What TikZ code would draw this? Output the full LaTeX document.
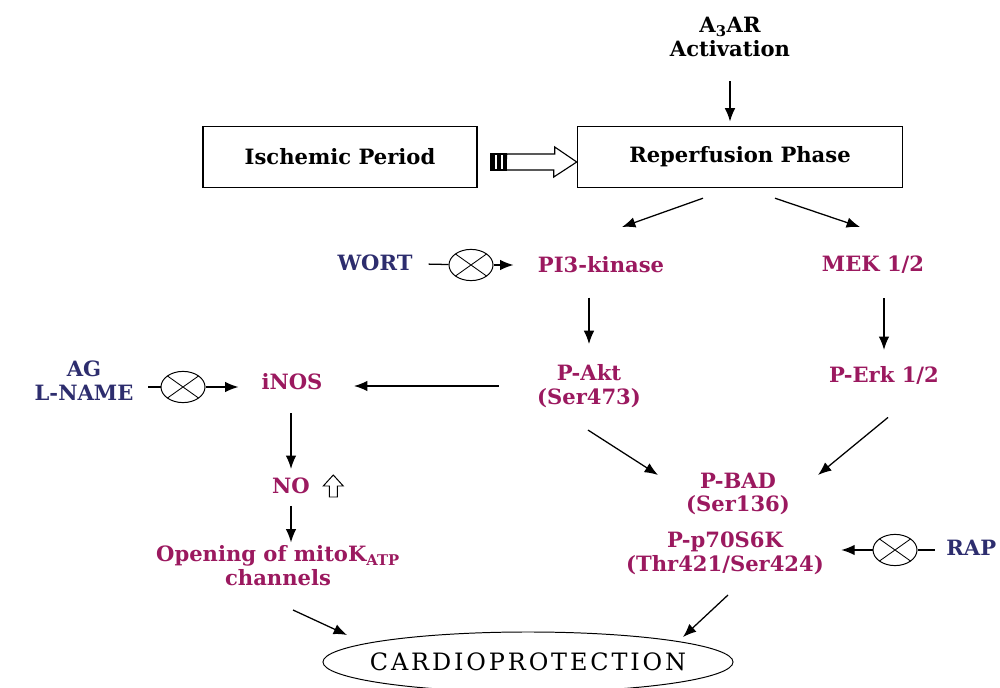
\documentclass[tikz,border=0pt]{standalone}
\usepackage{fontspec}
\setmainfont{DejaVu Serif}
\usetikzlibrary{shapes.geometric,arrows.meta}
\definecolor{plum}{RGB}{155,25,95}
\definecolor{navy}{RGB}{45,45,110}

\begin{document}
\begin{tikzpicture}[x=0.025cm, y=-0.025cm, >={Latex[length=9.5pt,width=7.5pt]}, line width=0.9pt,
    txt/.style={font=\fontsize{15}{17}\selectfont\bfseries, align=center, inner sep=2pt},
    mol/.style={txt, text=plum},
    drug/.style={txt, text=navy},
    phase/.style={txt, draw, line width=1pt, minimum height=1.525cm},
    blocker/.style={ellipse, draw, line width=0.7pt, minimum width=1.1cm, minimum height=0.78cm, inner sep=0pt,
        path picture={\draw[line width=0.6pt] (path picture bounding box.north west) -- (path picture bounding box.south east)
        (path picture bounding box.south west) -- (path picture bounding box.north east);}}]
    \useasboundingbox (0,0) rectangle (1000,688);

    \node[txt] (act) at (730,37) {A\textsubscript{3}AR\\Activation};
    \node[phase, minimum width=6.85cm] (isch) at (340,157) {Ischemic Period};
    \node[phase, minimum width=8.125cm] (rep) at (740,157) {Reperfusion Phase};

    \node[drug] (wort) at (375,263) {WORT};
    \node[blocker] (x1) at (471,265) {};
    \node[mol] (pi3) at (601,265) {PI3-kinase};
    \node[mol] (mek) at (873,265) {MEK 1/2};
    \node[mol] (akt) at (589,386) {P-Akt\\(Ser473)};
    \node[mol] (erk) at (884,375) {P-Erk 1/2};

    \node[drug] (ag) at (84,381) {AG\\L-NAME};
    \node[blocker] (x2) at (183,387) {};
    \node[mol] (inos) at (292,382) {iNOS};
    \node[mol] (no) at (291,486) {NO};
    \node[mol] (mito) at (278,566) {Opening of mitoK\textsubscript{ATP}\\channels};

    \node[mol] (bad) at (738,494) {P-BAD\\(Ser136)};
    \node[mol] (p70) at (725,553) {P-p70S6K\\(Thr421/Ser424)};
    \node[blocker] (x3) at (895,550) {};
    \node[drug, anchor=west] (rap) at (943,548) {RAP};

    \node[ellipse, draw, line width=0.7pt, inner xsep=-0.6cm, minimum width=10.25cm, minimum height=1.5cm,
        font=\fontsize{17}{20}\selectfont\addfontfeature{LetterSpace=12}] (cardio) at (528,662) {CARDIOPROTECTION};

    \draw[->, shorten <=15pt, shorten >=3pt] (act) -- (act |- rep.north);
    \coordinate (hs) at ([shift={(13,5)}]isch.east);
    \draw[line width=0.8pt] (hs) ++(0,-8) rectangle ++(16,16);
    \foreach \s in {0,6,12}
        \fill (hs) ++(\s,-8) rectangle ++(4,16);
    \draw[line width=0.8pt] (hs) ++(16,-8) -- ++(48,0) -- ++(0,-7) -- (rep.west |- hs) -- ++(-23,15) -- ++(0,-7) -- ++(-48,0) -- cycle;

    \draw[->] ([shift={(-37,10)}]rep.south) -- ([shift={(21,-38)}]pi3.center);
    \draw[->] ([shift={(35,10)}]rep.south) -- ([shift={(-13,-38)}]mek.center);
    \draw[shorten <=9pt] (wort) -- (x1);
    \draw[->, shorten >=15pt] (x1) -- (pi3);
    \draw[->, shorten <=15pt, shorten >=12pt] (akt |- pi3.south) -- (akt.north);
    \draw[->, shorten <=15pt, shorten >=9pt] (erk |- mek.south) -- (erk.north);

    \draw[->, shorten <=25pt, shorten >=20pt] (akt.west) -- (akt.west -| inos.east);
    \draw[shorten <=8pt] (ag.east |- x2) -- (x2);
    \draw[->, shorten >=14pt] (x2) -- (x2 -| inos.west);
    \draw[->, shorten <=14pt, shorten >=4pt] (no |- inos.south) -- (no);
    \draw[line width=0.7pt] ([shift={(16,11)}]no.east) -- ++(0,-11) -- ++(-6,0) -- ++(10,-11) -- ++(10,11) -- ++(-6,0) -- ++(0,11) -- cycle;
    \draw[->, shorten <=6pt] (no) -- (no |- mito.north);

    \draw[->] ([shift={(-1,19)}]akt.south) -- ([shift={(-80,-19)}]bad.center);
    \draw[->] ([shift={(4,30)}]erk.south) -- ([shift={(80,-19)}]bad.center);
    \draw[shorten <=6pt] (rap.west |- x3) -- (x3);
    \draw[->, shorten >=10pt] (x3) -- (x3 -| p70.east);

    \draw[->] ([shift={(15,44)}]mito.center) -- ([shift={(-181,-27)}]cardio.center);
    \draw[->] ([shift={(3,42)}]p70.center) -- ([shift={(155,-25)}]cardio.center);
\end{tikzpicture}
\end{document}
